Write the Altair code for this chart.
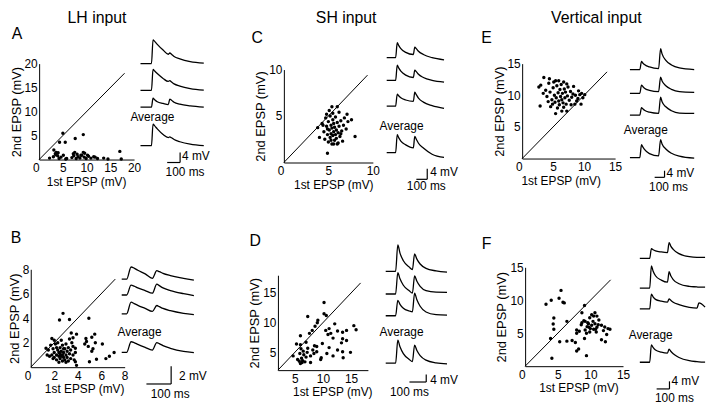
import altair as alt
import pandas as pd

# ===================== DATA =====================
# Scatter points: (1st EPSP, 2nd EPSP) in mV
A_pts = [(5.0,5.5),(9.3,5.2),(7.6,4.4),(4.3,3.6),(5.5,3.6),(3.1,2.0),(3.6,1.5),(17.0,1.7),(7.5,1.5),(9.3,1.5),
         (2.2,0.3),(3.0,0.6),(3.5,1.0),(3.9,0.8),(4.2,0.2),(4.6,0.5),(5.1,0.9),(5.6,0.1),(6.9,0.4),(7.3,0.8),
         (7.8,0.2),(8.2,0.6),(8.6,0.3),(9.0,0.9),(9.5,0.5),(9.9,0.2),(10.4,0.7),(10.9,0.3),(11.5,0.6),(12.3,0.2),
         (13.6,0.3),(14.5,0.1),(17.3,0.1),(7.2,1.2),(8.0,1.1),(9.6,1.3),(10.2,0.9),(4.0,1.4),(3.4,1.2),(5.8,0.2),
         (11.8,0.5),(8.8,0.9)]
B_pts = [(2.75,4.4),(2.45,3.85),(3.3,3.9),(4.95,4.0),(3.45,2.8),(3.9,2.7),(4.7,2.35),(5.2,2.45),(5.45,2.7),(4.75,2.1),
         (6.1,1.9),(4.9,1.7),(5.2,1.3),(7.1,1.2),(6.7,0.9),(6.4,0.7),(5.6,0.65),(5.0,0.45),(1.8,2.35),(1.3,1.55),
         (3.8,1.55),(3.8,0.45),(3.9,0.15),(5.3,1.5),(5.5,2.0),(4.6,1.9),(3.6,2.4),
         (1.5,1.4),(1.7,1.8),(1.8,1.0),(1.9,1.5),(2.0,0.8),(2.0,1.2),(2.1,1.9),(2.2,0.6),(2.2,1.0),(2.3,1.4),
         (2.3,2.0),(2.4,0.9),(2.4,1.2),(2.5,0.7),(2.5,1.1),(2.5,1.6),(2.6,0.9),(2.6,1.3),(2.7,0.5),(2.7,1.0),
         (2.7,1.8),(2.8,0.8),(2.8,1.2),(2.9,1.5),(2.9,0.6),(3.0,1.0),(3.0,1.9),(3.1,0.8),(3.1,1.3),(3.2,0.5),
         (3.2,1.6),(3.3,1.1),(3.4,0.7),(3.4,1.4),(3.5,2.0),(3.6,1.0),(3.6,1.7),(3.7,0.6),(2.0,2.2),(1.6,0.9),
         (2.6,2.2),(3.3,2.3),(2.2,1.6),(2.8,1.5),(1.9,0.7),(3.8,1.2),(2.4,0.4),(3.0,0.4),(1.4,1.0)]
C_pts = [(4.3,4.2),(4.5,3.3),(4.6,2.5),(4.7,4.8),(4.8,3.9),(4.9,3.0),(5.0,2.2),(5.0,4.4),(5.1,3.5),(5.2,2.7),
         (5.2,5.0),(5.3,4.0),(5.3,3.1),(5.4,2.0),(5.4,3.7),(5.5,4.6),(5.5,2.9),(5.6,3.3),(5.6,4.2),(5.7,2.4),
         (5.7,3.8),(5.8,3.0),(5.8,4.9),(5.9,3.5),(5.9,2.6),(6.0,4.3),(6.0,2.0),(6.1,3.2),(6.2,3.9),(6.2,5.4),
         (6.3,2.8),(6.4,4.5),(6.5,3.4),(6.6,2.3),(6.7,4.0),(6.8,4.8),(7.0,3.6),(7.2,4.4),(5.1,5.6),(4.4,4.0),
         (5.6,2.0),(6.1,2.1),(5.3,2.4),(4.9,3.6),(6.4,3.1),(5.5,5.3),
         (5.4,6.0),(6.0,6.0),(7.1,5.2),(8.0,2.8),(4.9,1.0),(3.8,3.75),(4.0,2.7),(4.8,5.2),(7.6,4.6)]
D_pts = [(10.2,13.4),(7.3,11.05),(10.2,11.5),(10.6,11.2),(9.1,10.4),(9.0,10.0),(8.1,8.7),(6.0,7.8),(7.6,8.2),(8.6,9.4),
         (10.5,8.7),(11.1,9.0),(12.1,9.8),(12.6,8.6),(13.5,8.4),(14.2,8.7),(15.5,9.5),(15.9,8.8),(11.8,7.4),(13.5,7.3),
         (14.2,7.0),(11.1,5.8),(12.6,5.4),(13.5,5.1),(14.9,5.0),(11.8,4.4),(13.6,4.1),(9.7,4.1),(10.7,4.8),(9.9,6.5),
         (10.9,8.0),(13.3,6.6),(11.4,8.2),(8.9,5.1),
         (4.7,4.4),(6.0,6.3),(7.0,6.7),(7.3,5.7),(8.2,5.4),(8.5,6.1),(7.8,4.4),(7.8,3.3),(5.5,3.8),(5.8,3.5),
         (6.0,3.1),(6.2,4.0),(6.4,3.6),(6.6,4.6),(6.8,3.4),(7.0,4.2),(5.9,4.8),(6.3,3.3),(7.2,5.0),(8.4,4.8),
         (6.5,5.2),(5.3,6.4),(8.9,6.0),(9.6,3.8),(6.1,5.6)]
E_pts = [(3.5,12.8),(2.7,11.3),(4.3,11.9),(5.1,12.1),(5.9,12.3),(6.7,12.1),(7.2,11.8),(8.3,11.4),(9.1,10.7),(9.6,10.3),
         (9.8,9.6),(8.8,9.1),(8.5,8.6),(7.2,7.5),(6.4,7.5),(5.4,7.1),(2.9,8.3),(4.6,8.2),(3.4,10.3),(4.0,9.8),
         (3.8,10.8),(4.5,10.5),(4.8,9.3),(5.0,11.2),(5.2,10.0),(5.3,8.9),(5.5,9.6),(5.6,11.5),(5.8,10.4),(5.9,9.1),
         (6.0,8.5),(6.1,10.9),(6.2,9.8),(6.3,11.7),(6.4,9.3),(6.5,10.3),(6.6,8.8),(6.8,11.0),(6.9,9.6),(7.0,10.5),
         (7.1,8.6),(7.3,9.9),(7.4,11.3),(7.6,9.2),(7.8,10.6),(8.0,9.7),(8.2,10.2),(8.6,10.0),(9.0,9.5),(9.3,10.1),
         (4.2,9.0),(4.9,8.6),(5.7,8.0),(6.7,8.1),(7.9,8.5),(9.5,8.6),(10.1,10.1),(4.4,12.6),(5.4,12.3),(3.0,11.6)]
F_pts = [(5.5,11.5),(4.0,10.0),(3.2,9.4),(5.2,10.3),(5.8,9.7),(6.0,9.6),(9.1,9.2),(8.7,8.1),(4.4,7.3),(4.3,6.4),
         (4.4,5.6),(6.4,6.8),(3.9,4.2),(5.3,3.7),(6.4,3.8),(7.2,3.9),(7.7,3.6),(8.2,2.6),(7.9,2.3),(9.4,1.6),
         (4.1,1.2),(11.7,4.0),(12.3,3.7),(10.2,7.8),(10.7,8.1),(10.5,7.6),(9.9,7.35),(9.2,6.8),(8.7,6.6),(9.7,6.45),
         (10.2,6.2),(10.7,6.45),(11.2,6.3),(11.7,6.2),(12.2,5.95),(12.7,5.7),(13.0,5.6),(9.2,5.5),(7.9,5.5),(7.9,5.0),
         (9.4,5.0),(9.9,5.2),(10.9,5.2),(12.0,5.4),(9.1,4.2),(8.6,6.3),(9.5,6.0),(10.0,5.7),(10.5,5.6),(11.0,5.9),
         (9.0,6.9),(10.4,6.8),(11.3,7.0),(9.8,5.9),(8.3,5.3),(12.5,4.8),(10.8,5.6),(11.0,7.6),(9.6,6.6)]

# Axis tick values
A_xticks, A_yticks = [0, 5, 10, 15, 20], [5, 10, 15, 20]
B_xticks, B_yticks = [0, 2, 4, 6, 8], [2, 4, 6, 8]
C_xticks, C_yticks = [0, 5, 10], [5, 10]
D_xticks, D_yticks = [5, 10, 15], [5, 10, 15]
E_xticks, E_yticks = [0, 5, 10, 15], [5, 10, 15]
F_xticks, F_yticks = [0, 5, 10, 15], [5, 10, 15]

# Traces: time (ms) and voltage above baseline (mV); 3 single sweeps + average
A_time = [0, 85, 97, 110, 130, 175, 215, 227, 240, 260, 305, 385, 490]
A_tr = [[0, 0, 9.6, 9.0, 7.8, 5.5, 3.8, 4.3, 3.8, 2.9, 1.9, 0.8, 0.2],
        [0, 0, 8.5, 7.8, 6.8, 4.8, 3.6, 3.9, 3.4, 2.6, 1.7, 0.7, 0.1],
        [0, 0, 3.6, 3.0, 2.2, 1.5, 1.0, 3.2, 2.8, 2.0, 1.2, 0.5, 0.0],
        [0, 0, 8.7, 8.0, 6.8, 4.5, 3.3, 3.6, 3.2, 2.5, 1.6, 0.6, 0.0]]
B_time = [0, 20, 38, 50, 65, 95, 124, 142, 152, 167, 197, 250, 292]
B_tr = [[0, 0, 1.37, 1.25, 1.0, 0.6, 0.1, 0.95, 0.85, 0.65, 0.4, 0.1, -0.1],
        [0, 0, 1.1, 1.0, 0.8, 0.5, 0.2, 1.22, 1.05, 0.8, 0.5, 0.15, -0.07],
        [0, 0, 1.3, 1.15, 0.95, 0.6, 0.26, 0.93, 0.8, 0.6, 0.35, 0.05, -0.1],
        [0, 0, 1.19, 1.1, 0.9, 0.55, 0.26, 1.1, 0.98, 0.75, 0.45, 0.1, -0.04]]
C_time = [0, 82, 97, 110, 130, 175, 245, 258, 272, 292, 337, 417, 527]
C_tr = [[0, 0, 5.6, 4.6, 3.4, 2.0, 1.2, 4.0, 3.4, 2.4, 1.2, 0.0, -0.8],
        [0, 0, 5.7, 4.7, 3.5, 2.0, 1.1, 3.9, 3.3, 2.3, 1.1, 0.0, -0.6],
        [0, 0, 4.5, 3.9, 3.1, 2.3, 1.8, 5.2, 4.3, 3.0, 1.5, 0.2, -0.85],
        [0, 0, 6.7, 5.6, 4.3, 2.9, 1.8, 6.1, 5.0, 3.5, 1.7, -0.6, -1.8]]
D_time = [0, 59, 72, 85, 105, 140, 159, 172, 185, 205, 240, 300, 365]
D_tr = [[0, 0, 13.8, 9.5, 5.5, 2.2, 0.9, 9.1, 6.5, 3.8, 1.5, 0.2, -0.5],
        [0, 0, 11.2, 8.0, 4.6, 1.7, 0.5, 9.5, 6.8, 4.0, 1.8, 1.0, 0.9],
        [0, 0, 8.1, 6.0, 3.9, 2.5, 2.1, 11.9, 8.5, 5.0, 2.0, 0.6, 0.3],
        [0, 0, 12.1, 8.6, 5.0, 2.0, 0.9, 9.5, 6.8, 4.0, 1.6, 0.2, -0.3]]
E_time = [0, 100, 117, 130, 147, 197, 290, 310, 325, 363, 420, 500, 650]
E_tr = [[0, 0, 4.9, 4.0, 3.0, 1.6, 0.6, 12.7, 9.5, 5.6, 2.8, 1.0, 0.0],
        [0, 0, 4.9, 4.1, 3.1, 1.8, 1.0, 9.8, 7.5, 4.6, 2.4, 1.0, 0.6],
        [0, 0, 4.5, 3.8, 2.9, 1.7, 1.0, 10.8, 8.0, 5.0, 2.6, 1.2, 1.0],
        [0, 0, 7.8, 6.5, 4.9, 2.4, 1.0, 10.8, 8.2, 5.2, 2.6, 0.8, -0.4]]
F_time = [0, 77, 90, 103, 122, 167, 215, 228, 241, 260, 305, 385, 445, 460, 508]
F_tr = [[0, 0, 5.2, 4.6, 4.0, 3.4, 3.1, 8.3, 6.5, 4.8, 2.5, 0.9, 0.6, 0.6, 0.5],
        [0, 0, 11.7, 9.0, 6.5, 4.2, 3.1, 8.6, 6.5, 4.5, 2.3, 0.9, 0.6, 0.5, 0.5],
        [0, 0, 7.8, 6.3, 5.0, 4.0, 3.5, 5.2, 4.5, 3.5, 2.2, 0.8, 0.4, 3.1, 0.9],
        [0, 0, 9.2, 7.8, 6.4, 5.3, 4.8, 6.9, 5.8, 4.5, 2.5, 0.8, 0.3, 0.2, 0.0]]

# Scale bars
BAR_MS = 100
A_bar_mv, B_bar_mv, C_bar_mv, D_bar_mv, E_bar_mv, F_bar_mv = 4, 2, 4, 4, 4, 4

column_titles = ["LH input", "SH input", "Vertical input"]
panel_letters = ["A", "B", "C", "D", "E", "F"]

# ===================== LAYOUT (page pixels) =====================
M = 8
W, H = 712, 398
Y0 = 400
FONT = "Liberation Sans"

def sx(v):
    return v - M

PANELS = {
    "A": dict(pts=A_pts, xt=A_xticks, yt=A_yticks, time=A_time, tr=A_tr, barmv=A_bar_mv,
              dom=[0, 20], xpx=[39.5, 135.5], ypx=[159, 62], diag=18, xtitle=87,
              tx=[142, 206], base=[62, 89, 106, 145], k=2.5, bar=(169, 162),
              avg=(154, 116), mv=(184, 155), ms=(187, 172), letter=(17, 32)),
    "B": dict(pts=B_pts, xt=B_xticks, yt=B_yticks, time=B_time, tr=B_tr, barmv=B_bar_mv,
              dom=[0, 8], xpx=[31, 126], ypx=[369, 270], diag=7.2, xtitle=85,
              tx=[123, 196], base=[280, 296, 315, 354], k=9, bar=(148, 386),
              avg=(141, 333), mv=(181, 378), ms=(172, 396), letter=(16, 238)),
    "C": dict(pts=C_pts, xt=C_xticks, yt=C_yticks, time=C_time, tr=C_tr, barmv=C_bar_mv,
              dom=[0, 10], xpx=[287, 377], ypx=[162, 68], diag=9.4, xtitle=337,
              tx=[391, 449], base=[56, 79, 105, 152], k=2.7, bar=(421, 179),
              avg=(406, 125), mv=(435, 172), ms=(431, 186), letter=(260, 36)),
    "D": dict(pts=D_pts, xt=D_xticks, yt=D_yticks, time=D_time, tr=D_tr, barmv=D_bar_mv,
              dom=[2, 18], xpx=[281, 372], ypx=[372, 276], diag=16.7, xtitle=336,
              tx=[390, 452], base=[272, 295, 317, 365], k=1.93, bar=(414, 384),
              avg=(406, 333), mv=(435, 382), ms=(414, 394), letter=(258, 241)),
    "E": dict(pts=E_pts, xt=E_xticks, yt=E_yticks, time=E_time, tr=E_tr, barmv=E_bar_mv,
              dom=[0, 15], xpx=[528, 622], ypx=[158, 62], diag=13.7, xtitle=567,
              tx=[637, 702], base=[68, 92, 114, 157], k=1.67, bar=(662, 177),
              avg=(653, 129), mv=(674, 173), ms=(676, 187), letter=(492, 36)),
    "F": dict(pts=F_pts, xt=F_xticks, yt=F_yticks, time=F_time, tr=F_tr, barmv=F_bar_mv,
              dom=[0, 15], xpx=[531, 630], ypx=[368, 268], diag=13.1, xtitle=585,
              tx=[647, 713], base=[259, 289, 310, 364], k=1.92, bar=(664, 391),
              avg=(658, 337), mv=(679, 383), ms=(682, 400), letter=(492, 244)),
}
TITLE_POS = [(98, 16), (350, 16), (603, 16)]


def txt(s, x, y, size=12, align="center"):
    return alt.Chart(pd.DataFrame({"s": [s]})).mark_text(
        align=align, baseline="middle", fontSize=size, font=FONT, color="black"
    ).encode(x=alt.value(sx(x)), y=alt.value(sx(y)), text="s:N")


def scatter_layers(p):
    df = pd.DataFrame(p["pts"], columns=["first", "second"])
    dom = p["dom"]
    xsc = alt.Scale(domain=dom, range=[sx(p["xpx"][0]), sx(p["xpx"][1])], nice=False, zero=False)
    ysc = alt.Scale(domain=dom, range=[sx(p["ypx"][0]), sx(p["ypx"][1])], nice=False, zero=False)
    xax = alt.Axis(orient="bottom", offset=sx(p["ypx"][0]) - H, values=p["xt"],
                   title="1st EPSP (mV)", titleX=sx(p["xtitle"]), titleFontSize=12,
                   labelAlign={"condition": {"test": "datum.value == 0", "value": "right"},
                               "value": "center"})
    yax = alt.Axis(orient="left", offset=-sx(p["xpx"][0]), values=p["yt"],
                   title="2nd EPSP (mV)", titleFontSize=13, labelPadding=2, titlePadding=1)
    pts = alt.Chart(df).mark_circle(size=12, color="black", opacity=1).encode(
        x=alt.X("first:Q", scale=xsc, axis=xax),
        y=alt.Y("second:Q", scale=ysc, axis=yax))
    ddf = pd.DataFrame({"first": [dom[0], p["diag"]], "second": [dom[0], p["diag"]]})
    diag = alt.Chart(ddf).mark_line(color="black", strokeWidth=1).encode(
        x=alt.X("first:Q", scale=xsc, axis=None),
        y=alt.Y("second:Q", scale=ysc, axis=None))
    return [pts, diag]


def trace_layers(p):
    times = p["time"]
    T = times[-1]
    rows = []
    for i, tr in enumerate(p["tr"]):
        off = (Y0 - p["base"][i]) / p["k"]
        for t, v in zip(times, tr):
            rows.append({"t": t, "v": v + off, "tr": i})
    tx = p["tx"]
    xsc = alt.Scale(domain=[0, T], range=[sx(tx[0]), sx(tx[1])], nice=False, zero=False)
    ysc = alt.Scale(domain=[0, 200], range=[sx(Y0), sx(Y0) - 200 * p["k"]], nice=False, zero=False)
    lines = alt.Chart(pd.DataFrame(rows)).mark_line(
        color="black", strokeWidth=1.3, interpolate="monotone"
    ).encode(x=alt.X("t:Q", scale=xsc, axis=None),
             y=alt.Y("v:Q", scale=ysc, axis=None),
             detail="tr:N")
    tb = (p["bar"][0] - tx[0]) / (tx[1] - tx[0]) * T
    vb = (Y0 - p["bar"][1]) / p["k"]
    bdf = pd.DataFrame({"t": [tb, tb + BAR_MS], "t2": [tb + BAR_MS, tb + BAR_MS],
                        "v": [vb, vb], "v2": [vb, vb + p["barmv"]]})
    bar = alt.Chart(bdf).mark_rule(color="black", strokeWidth=1.2).encode(
        x=alt.X("t:Q", scale=xsc, axis=None), x2="t2:Q",
        y=alt.Y("v:Q", scale=ysc, axis=None), y2="v2:Q")
    return [lines, bar]


layers = []
for name in panel_letters:
    p = PANELS[name]
    layers += scatter_layers(p)
    layers += trace_layers(p)
    layers.append(txt("Average", *p["avg"]))
    layers.append(txt(f"{p['barmv']} mV", *p["mv"], align="left"))
    layers.append(txt(f"{BAR_MS} ms", *p["ms"]))
    layers.append(txt(name, *p["letter"], size=16))
for title, pos in zip(column_titles, TITLE_POS):
    layers.append(txt(title, *pos, size=16))

chart = alt.layer(*layers).resolve_scale(
    x="independent", y="independent"
).properties(
    width=W, height=H, autosize=alt.AutoSizeParams(type="none"), padding=0
).configure_view(stroke=None).configure_axis(
    grid=False, ticks=False, domainColor="black", domainWidth=1,
    labelColor="black", titleColor="black", labelFont=FONT, titleFont=FONT,
    labelFontSize=12, titleFontWeight="normal", labelPadding=3, titlePadding=3
)

chart.save("out.html", embed_options={"renderer": "svg", "actions": False})
